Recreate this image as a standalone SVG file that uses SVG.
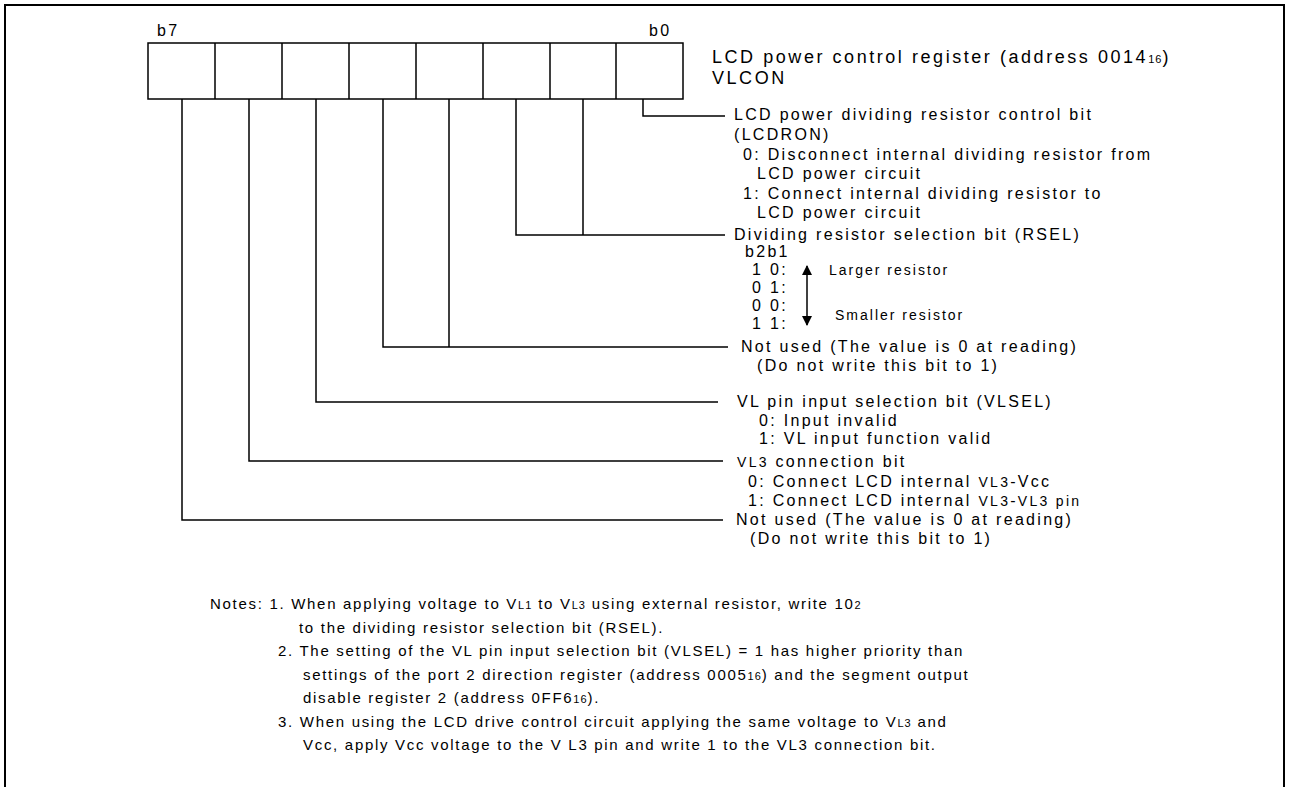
<svg xmlns="http://www.w3.org/2000/svg" width="1289" height="787" viewBox="0 0 1289 787">
<style>
text{font-family:"Liberation Sans",Arial,sans-serif;fill:#000}
.t{font-size:16px;letter-spacing:2.3px}
.ti{font-size:18px;letter-spacing:2.55px}
.n{font-size:15px;letter-spacing:1.7px}
.a{font-size:14px;letter-spacing:2px}
.sub{font-size:11px;letter-spacing:1px}
.v{font-size:14px}
.ln{fill:none;stroke:#000;stroke-width:1.5}
</style>
<defs>
<marker id="ah" viewBox="0 0 10 10" refX="9" refY="5" markerWidth="10" markerHeight="10" markerUnits="userSpaceOnUse" orient="auto-start-reverse">
<path d="M0,0 L10,5 L0,10 z" fill="#000"/>
</marker>
</defs>
<rect width="1289" height="787" fill="#fff"/>
<path d="M5,787 V5 H1284 V787" fill="none" stroke="#000" stroke-width="2"/>

<g id="register">
<rect x="148" y="43" width="535" height="56" class="ln"/>
<path class="ln" d="M215,43V99M282,43V99M349,43V99M416,43V99M483,43V99M550,43V99M616,43V99"/>
<text class="t" x="157" y="36">b7</text>
<text class="t" x="649" y="36">b0</text>
</g>

<g id="title">
<text class="ti" x="712" y="63">LCD power control register (address 0014<tspan class="sub">16</tspan>)</text>
<text class="ti" x="712" y="84">VLCON</text>
</g>

<g id="connectors">
<path class="ln" d="M643,99V116H725"/>
<path class="ln" d="M583,99V235M516,99V235H725"/>
<path class="ln" d="M449,99V347M383,99V347H728"/>
<path class="ln" d="M316,99V402H718"/>
<path class="ln" d="M249,99V461H723"/>
<path class="ln" d="M182,99V520H723"/>
<path class="ln" d="M807,266V325" marker-start="url(#ah)" marker-end="url(#ah)"/>
</g>

<g id="bit0">
<text class="t" x="734" y="120">LCD power dividing resistor control bit</text>
<text class="t" x="734" y="140">(LCDRON)</text>
<text class="t" x="743" y="159.5">0: Disconnect internal dividing resistor from</text>
<text class="t" x="757" y="179">LCD power circuit</text>
<text class="t" x="743" y="198.5">1: Connect internal dividing resistor to</text>
<text class="t" x="757" y="218">LCD power circuit</text>
</g>

<g id="bit2-1">
<text class="t" x="734" y="239.5">Dividing resistor selection bit (RSEL)</text>
<text class="t" x="745" y="257">b2b1</text>
<text class="t" x="752" y="275">1 0:</text>
<text class="t" x="752" y="293">0 1:</text>
<text class="t" x="752" y="311">0 0:</text>
<text class="t" x="752" y="329">1 1:</text>
<text class="a" x="829" y="275">Larger resistor</text>
<text class="a" x="835" y="320">Smaller resistor</text>
</g>

<g id="bit4-3">
<text class="t" x="741" y="352">Not used (The value is 0 at reading)</text>
<text class="t" x="757" y="371">(Do not write this bit to 1)</text>
</g>

<g id="bit5">
<text class="t" x="737" y="407">VL pin input selection bit (VLSEL)</text>
<text class="t" x="759" y="426">0: Input invalid</text>
<text class="t" x="759" y="444">1: VL input function valid</text>
</g>

<g id="bit6">
<text class="t" x="737" y="467"><tspan class="v">VL3</tspan> connection bit</text>
<text class="t" x="748" y="487">0: Connect LCD internal <tspan class="v">VL3</tspan>-Vcc</text>
<text class="t" x="748" y="506">1: Connect LCD internal <tspan class="v">VL3</tspan>-<tspan class="v">VL3 pin</tspan></text>
</g>

<g id="bit7">
<text class="t" x="736" y="525">Not used (The value is 0 at reading)</text>
<text class="t" x="750" y="544">(Do not write this bit to 1)</text>
</g>

<g id="notes">
<text class="n" x="210" y="609">Notes: 1. When applying voltage to V<tspan class="sub">L1</tspan> to V<tspan class="sub">L3</tspan> using external resistor, write 10<tspan class="sub">2</tspan></text>
<text class="n" x="299" y="632.5">to the dividing resistor selection bit (RSEL).</text>
<text class="n" x="278" y="656">2. The setting of the VL pin input selection bit (VLSEL) = 1 has higher priority than</text>
<text class="n" x="303" y="679.5">settings of the port 2 direction register (address 0005<tspan class="sub">16</tspan>) and the segment output</text>
<text class="n" x="303" y="703">disable register 2 (address 0FF6<tspan class="sub">16</tspan>).</text>
<text class="n" x="278" y="726.5">3. When using the LCD drive control circuit applying the same voltage to V<tspan class="sub">L3</tspan> and</text>
<text class="n" x="303" y="750">Vcc, apply Vcc voltage to the V L3 pin and write 1 to the VL3 connection bit.</text>
</g>
</svg>
